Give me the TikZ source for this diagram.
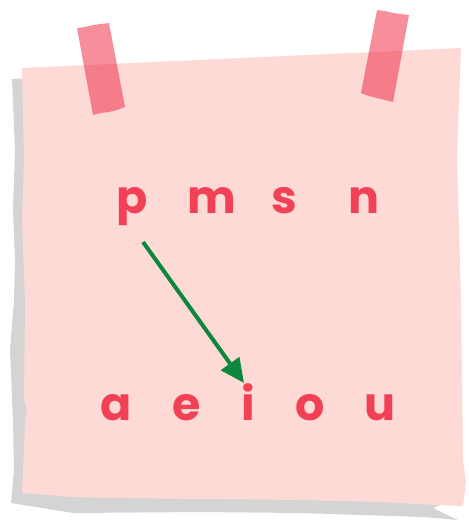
\documentclass[tikz,border=0pt]{standalone}
\usepackage{fontspec}
\setmainfont{Poppins}
\usetikzlibrary{arrows.meta,calc}
\definecolor{paper}{RGB}{253,218,213}
\definecolor{shadowc}{RGB}{212,212,212}
\definecolor{tape}{RGB}{240,50,75}
\definecolor{letter}{RGB}{242,64,85}
\definecolor{arrowc}{RGB}{12,135,62}
\tikzset{
  lettr/.style={text=letter, font=\fontsize{46}{50}\selectfont\bfseries, inner sep=0pt, anchor=base},
  tapestrip/.style={fill=tape, fill opacity=0.55, draw=none},
  arr/.style={draw=arrowc, line width=4pt, -{Triangle[length=24pt,width=22pt]}}
}
\begin{document}
\begin{tikzpicture}[x=1pt,y=-1pt]
\useasboundingbox (0,0) rectangle (469,520);
% shadow
\fill[shadowc] (12,79) -- (451,58) -- (449,170) -- (451,300) -- (452,460) -- (453,500) -- (433,508) -- (458,520) -- (423,517) -- (300,513) -- (200,512) -- (73,513) -- (11,503) -- (14,470) -- (13,420) -- (10,350) -- (14,300) -- (15,260) -- (13,210) -- (15,150) -- cycle;
% paper
\fill[paper] (22,68) -- (461,48) -- (459,100) -- (457,160) -- (459,230) -- (461,300) -- (462,380) -- (463,460) -- (466,482) -- (463,506) -- (437,505) -- (380,502) -- (300,500) -- (200,499) -- (110,498) -- (73,497) -- (22,493) -- (24,450) -- (25,420) -- (27,410) -- (24,400) -- (25,300) -- (22,220) -- (24,160) -- cycle;
% tapes
\fill[tapestrip] (77,28) -- (85,27) -- (93,25) -- (101,24) -- (109,23) -- (125,107) -- (117,110) -- (109,112) -- (101,113) -- (93,115) -- cycle;
\fill[tapestrip] (377,10) -- (385,11) -- (393,13) -- (401,14) -- (409,15) -- (393,102) -- (385,100) -- (377,98) -- (369,96) -- (361,93) -- cycle;
% letters
\node[lettr] (p) at (132,213) {p};
\node[lettr] (m) at (212,213) {m};
\node[lettr] (s) at (284,213) {s};
\node[lettr] (n) at (364,213) {n};
\node[lettr] (a) at (116,420) {a};
\node[lettr] (e) at (187,420) {e};
\node[lettr] (i) at (248,420) {i};
\node[lettr] (o) at (310,420) {o};
\node[lettr] (u) at (380,420) {u};
\coordinate (from) at ($(p.base)+(11,29)$);
\coordinate (to) at ($(i.base)+(-4,-37)$);
\draw[arr] (from) -- (to);
\end{tikzpicture}
\end{document}
